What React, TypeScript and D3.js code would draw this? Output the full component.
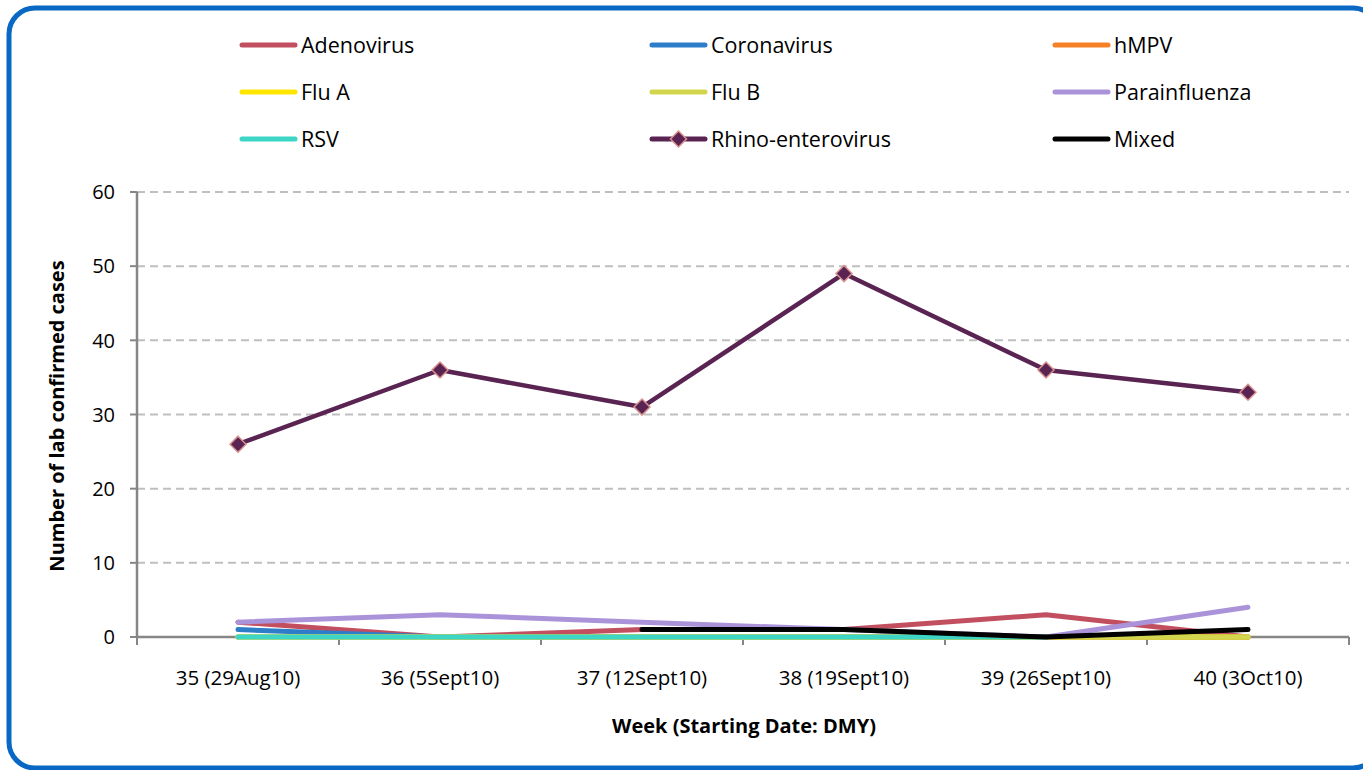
import React from "react";
import * as d3 from "d3";

const categories = ["35 (29Aug10)", "36 (5Sept10)", "37 (12Sept10)", "38 (19Sept10)", "39 (26Sept10)", "40 (3Oct10)"];
const yTicks = [0, 10, 20, 30, 40, 50, 60];

const adenovirus = [2, 0, 1, 1, 3, 0];
const coronavirus = [1, 0, 0, 0, 0, 0];
const hmpv = [0, 0, 0, 0, 0, 0];
const fluA = [0, 0, 0, 0, 0, 0];
const fluB = [0, 0, 0, 0, 0, 0];
const parainfluenza = [2, 3, 2, 1, 0, 4];
const rsv: (number | null)[] = [0, 0, 0, 0, 0, null];
const rhino = [26, 36, 31, 49, 36, 33];
const mixed: (number | null)[] = [null, null, 1, 1, 0, 1];

const seriesNames = ["Adenovirus", "Coronavirus", "hMPV", "Flu A", "Flu B", "Parainfluenza", "RSV", "Rhino-enterovirus", "Mixed"];
const seriesColors = ["#C24F60", "#2E7DC8", "#F58026", "#FFE600", "#D2D64C", "#AB93DA", "#3DD6C6", "#5A2452", "#000000"];
const seriesData: (number | null)[][] = [adenovirus, coronavirus, hmpv, fluA, fluB, parainfluenza, rsv, rhino, mixed];

export default function App() {
  const W = 1363, H = 770;
  const left = 137, right = 1349, top = 192, bottom = 637;
  const x = d3.scaleBand<string>().domain(categories).range([left, right]);
  const y = d3.scaleLinear().domain([0, 60]).range([bottom, top]);
  const cx = (i: number) => (x(categories[i]) as number) + x.bandwidth() / 2;
  const font = "'Open Sans', 'Liberation Sans', Arial, sans-serif";

  const line = d3.line<number | null>()
    .defined((d) => d !== null)
    .x((_, i) => cx(i))
    .y((d) => y(d as number));

  const legendCols = [242, 652, 1055];
  const legendRows = [45, 92, 139];

  const diamond = (px: number, py: number, r: number) =>
    `M${px},${py - r}L${px + r},${py}L${px},${py + r}L${px - r},${py}Z`;

  return (
    <svg width={W} height={H} style={{ position: "absolute", left: 0, top: 0, display: "block" }}>
      <rect x={0} y={0} width={W} height={H} fill="#fff" />
      <rect x={9} y={8} width={1370} height={760} rx={26} ry={26} fill="#fff" stroke="#0868C4" strokeWidth={5} />

      {/* gridlines */}
      {yTicks.filter((t) => t > 0).map((t) => (
        <line key={"g" + t} x1={left} x2={right} y1={y(t)} y2={y(t)} stroke="#BFBFBF" strokeWidth={2} strokeDasharray="8,5" />
      ))}

      {/* axes */}
      <line x1={left} x2={left} y1={top} y2={bottom} stroke="#868686" strokeWidth={2.5} />
      <line x1={left} x2={right} y1={bottom} y2={bottom} stroke="#868686" strokeWidth={2.5} />
      {yTicks.map((t) => (
        <g key={"yt" + t}>
          <line x1={left - 7} x2={left} y1={y(t)} y2={y(t)} stroke="#868686" strokeWidth={2} />
          <text x={115} y={y(t)} dy="0.36em" textAnchor="end" fontSize={20} fontFamily={font} fill="#000">{t}</text>
        </g>
      ))}
      {categories.map((c, i) => (
        <line key={"xt" + i} x1={x(c) as number} x2={x(c) as number} y1={bottom} y2={bottom + 8} stroke="#868686" strokeWidth={2} />
      ))}
      <line x1={right} x2={right} y1={bottom} y2={bottom + 8} stroke="#868686" strokeWidth={2} />
      {categories.map((c, i) => (
        <text key={"xl" + i} x={cx(i)} y={685} textAnchor="middle" fontSize={20.5} fontFamily={font} fill="#000">{c}</text>
      ))}

      {/* axis titles */}
      <text x={744} y={733} textAnchor="middle" fontSize={20} fontWeight="bold" fontFamily={font} fill="#000">Week (Starting Date: DMY)</text>
      <text transform={`translate(64,416) rotate(-90)`} textAnchor="middle" fontSize={20} fontWeight="bold" fontFamily={font} fill="#000">Number of lab confirmed cases</text>

      {/* series */}
      {seriesData.map((d, si) => (
        <path key={"s" + si} d={line(d) || ""} fill="none" stroke={seriesColors[si]} strokeWidth={si === 7 ? 4.5 : 5} strokeLinecap="round" strokeLinejoin="round" />
      ))}
      {rhino.map((v, i) => (
        <path key={"m" + i} d={diamond(cx(i), y(v), 8)} fill="#5A2452" stroke="#D9918F" strokeWidth={1.5} />
      ))}

      {/* legend */}
      {seriesNames.map((n, i) => {
        const col = legendCols[i % 3];
        const row = legendRows[Math.floor(i / 3)];
        return (
          <g key={"lg" + i}>
            <line x1={col} x2={col + 53} y1={row} y2={row} stroke={seriesColors[i]} strokeWidth={5} strokeLinecap="round" />
            {i === 7 && <path d={diamond(col + 26.5, row, 8)} fill="#5A2452" stroke="#D9918F" strokeWidth={1.5} />}
            <text x={col + 59} y={row} dy="0.36em" fontSize={21.5} fontFamily={font} fill="#000">{n}</text>
          </g>
        );
      })}
    </svg>
  );
}
